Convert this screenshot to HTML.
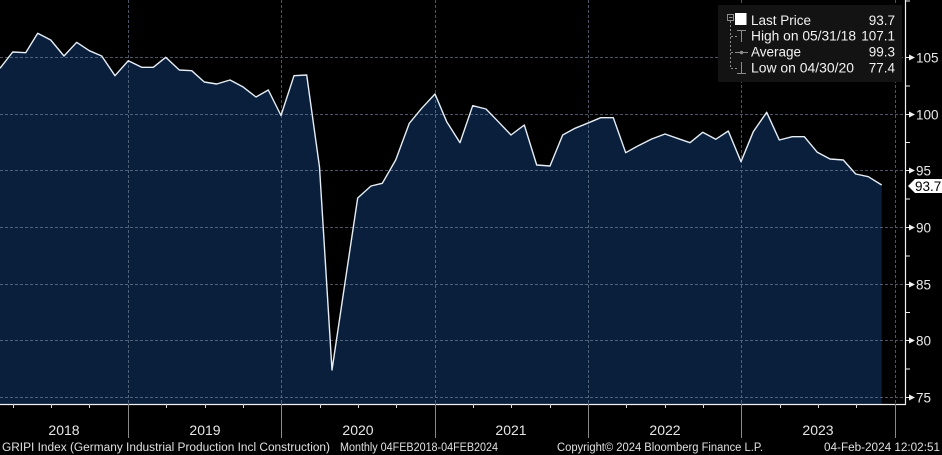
<!DOCTYPE html>
<html><head><meta charset="utf-8">
<style>
html,body{margin:0;padding:0;background:#000;}
svg{display:block;}
text{font-family:"Liberation Sans","DejaVu Sans",sans-serif;}
</style></head>
<body>
<svg width="942" height="455" viewBox="0 0 942 455" xmlns="http://www.w3.org/2000/svg">
<rect x="0" y="0" width="942" height="455" fill="#000"/>
<!-- area fill -->
<polygon fill="#0a1f3b" points="0,68.3 12.7,52 25.7,52.7 37.7,33.3 50.7,40 64,56 76.7,42.3 89.3,50.7 101.7,56 115,75.7 128.3,60.7 141.7,67.3 153.3,67.3 165.7,57.3 179.3,70 191.7,70.7 204.3,82 216.7,84 230,80 242.7,86.7 256,97 268.3,90 281,115.5 294,75.7 306.7,75 319.5,167 332,370 344.8,284 357.7,198 371,186 382.3,183.3 395.7,160 409.3,123.3 421.7,108.3 435,94 446.7,121.7 460,142.7 472.7,105.7 486,109 498.3,121.7 511,135 524.3,125 536.7,165 550,166 562.7,135 575,128.3 587.3,123.3 600.7,117.7 613.3,117.7 625.7,152.7 638.3,145.7 651.7,139 665,134 677.3,138.3 690,142.7 702.7,132.3 715.7,139.3 728.3,131 741,161.7 753.3,131.7 766.7,112.3 779.3,140 792.3,136.7 804.3,136.7 817.3,152.3 830,159 843.3,160 855.7,174 868.3,176.7 881.7,185 881.7,404 0,404"/>
<!-- grid -->
<g stroke="#7d8ea6" stroke-width="1" stroke-dasharray="3,2" fill="none" opacity="0.6">
<line x1="0" y1="57.5" x2="905" y2="57.5"/>
<line x1="0" y1="114.5" x2="905" y2="114.5"/>
<line x1="0" y1="170.5" x2="905" y2="170.5"/>
<line x1="0" y1="227.5" x2="905" y2="227.5"/>
<line x1="0" y1="284.5" x2="905" y2="284.5"/>
<line x1="0" y1="340.5" x2="905" y2="340.5"/>
<line x1="0" y1="397.5" x2="905" y2="397.5"/>
<line x1="128.5" y1="0" x2="128.5" y2="404"/>
<line x1="281.5" y1="0" x2="281.5" y2="404"/>
<line x1="435.5" y1="0" x2="435.5" y2="404"/>
<line x1="588.5" y1="0" x2="588.5" y2="404"/>
<line x1="741.5" y1="0" x2="741.5" y2="404"/>
<line x1="895.5" y1="0" x2="895.5" y2="404"/>
</g>
<!-- line -->
<polyline fill="none" stroke="#e6edf5" stroke-width="1.4" stroke-linejoin="round" points="0,68.3 12.7,52 25.7,52.7 37.7,33.3 50.7,40 64,56 76.7,42.3 89.3,50.7 101.7,56 115,75.7 128.3,60.7 141.7,67.3 153.3,67.3 165.7,57.3 179.3,70 191.7,70.7 204.3,82 216.7,84 230,80 242.7,86.7 256,97 268.3,90 281,115.5 294,75.7 306.7,75 319.5,167 332,370 344.8,284 357.7,198 371,186 382.3,183.3 395.7,160 409.3,123.3 421.7,108.3 435,94 446.7,121.7 460,142.7 472.7,105.7 486,109 498.3,121.7 511,135 524.3,125 536.7,165 550,166 562.7,135 575,128.3 587.3,123.3 600.7,117.7 613.3,117.7 625.7,152.7 638.3,145.7 651.7,139 665,134 677.3,138.3 690,142.7 702.7,132.3 715.7,139.3 728.3,131 741,161.7 753.3,131.7 766.7,112.3 779.3,140 792.3,136.7 804.3,136.7 817.3,152.3 830,159 843.3,160 855.7,174 868.3,176.7 881.7,185"/>
<!-- axes -->
<line x1="905.5" y1="0" x2="905.5" y2="405" stroke="#f0f0f0" stroke-width="1.2"/>
<line x1="0" y1="404.5" x2="906" y2="404.5" stroke="#f0f0f0" stroke-width="1.2"/>
<!-- right ticks major -->
<g fill="#f0f0f0" stroke="#f0f0f0" stroke-width="1">
<line x1="905" y1="57.5" x2="910" y2="57.5"/><polygon points="909,54.5 915,57.5 909,60.5" stroke="none"/>
<line x1="905" y1="114.5" x2="910" y2="114.5"/><polygon points="909,111.5 915,114.5 909,117.5" stroke="none"/>
<line x1="905" y1="170.5" x2="910" y2="170.5"/><polygon points="909,167.5 915,170.5 909,173.5" stroke="none"/>
<line x1="905" y1="227.5" x2="910" y2="227.5"/><polygon points="909,224.5 915,227.5 909,230.5" stroke="none"/>
<line x1="905" y1="284.5" x2="910" y2="284.5"/><polygon points="909,281.5 915,284.5 909,287.5" stroke="none"/>
<line x1="905" y1="340.5" x2="910" y2="340.5"/><polygon points="909,337.5 915,340.5 909,343.5" stroke="none"/>
<line x1="905" y1="397.5" x2="910" y2="397.5"/><polygon points="909,394.5 915,397.5 909,400.5" stroke="none"/>
<line x1="905" y1="1" x2="910" y2="1"/>
<line x1="905" y1="86" x2="910" y2="86"/>
<line x1="905" y1="142.5" x2="910" y2="142.5"/>
<line x1="905" y1="199" x2="910" y2="199"/>
<line x1="905" y1="256" x2="910" y2="256"/>
<line x1="905" y1="312.5" x2="910" y2="312.5"/>
<line x1="905" y1="369" x2="910" y2="369"/>
</g>
<g fill="#e8e8e8" font-size="13.5">
<text x="916" y="62.5">105</text>
<text x="916" y="119.5">100</text>
<text x="916" y="175.5">95</text>
<text x="916" y="232.5">90</text>
<text x="916" y="289.5">85</text>
<text x="916" y="345.5">80</text>
<text x="916" y="402.5">75</text>
</g>
<!-- last price tag -->
<polygon points="908,186 915,179 942,179 942,193 915,193" fill="#ffffff"/>
<text x="915" y="191" font-size="13.5" fill="#000">93.7</text>
<!-- bottom axis ticks -->
<g stroke="#d8d8d8" stroke-width="1">
<line x1="13.5" y1="404" x2="13.5" y2="408"/>
<line x1="51.5" y1="404" x2="51.5" y2="408"/>
<line x1="89.5" y1="404" x2="89.5" y2="408"/>
<line x1="166.5" y1="404" x2="166.5" y2="408"/>
<line x1="205.5" y1="404" x2="205.5" y2="408"/>
<line x1="243.5" y1="404" x2="243.5" y2="408"/>
<line x1="320.5" y1="404" x2="320.5" y2="408"/>
<line x1="358.5" y1="404" x2="358.5" y2="408"/>
<line x1="396.5" y1="404" x2="396.5" y2="408"/>
<line x1="473.5" y1="404" x2="473.5" y2="408"/>
<line x1="511.5" y1="404" x2="511.5" y2="408"/>
<line x1="550.5" y1="404" x2="550.5" y2="408"/>
<line x1="626.5" y1="404" x2="626.5" y2="408"/>
<line x1="665.5" y1="404" x2="665.5" y2="408"/>
<line x1="703.5" y1="404" x2="703.5" y2="408"/>
<line x1="780.5" y1="404" x2="780.5" y2="408"/>
<line x1="818.5" y1="404" x2="818.5" y2="408"/>
<line x1="856.5" y1="404" x2="856.5" y2="408"/>
</g>
<g stroke="#8a8a8a" stroke-width="1">
<line x1="128.5" y1="404" x2="128.5" y2="438"/>
<line x1="281.5" y1="404" x2="281.5" y2="438"/>
<line x1="435.5" y1="404" x2="435.5" y2="438"/>
<line x1="588.5" y1="404" x2="588.5" y2="438"/>
<line x1="741.5" y1="404" x2="741.5" y2="438"/>
<line x1="895.5" y1="404" x2="895.5" y2="438"/>
</g>
<g fill="#e6e6e6" font-size="14" text-anchor="middle">
<text x="64" y="435">2018</text>
<text x="205" y="435">2019</text>
<text x="358" y="435">2020</text>
<text x="511" y="435">2021</text>
<text x="665" y="435">2022</text>
<text x="818" y="435">2023</text>
</g>
<g fill="#e0e0e0" font-size="11.5">
<text x="2" y="451" textLength="328" lengthAdjust="spacingAndGlyphs">GRIPI Index (Germany Industrial Production Incl Construction)</text>
<text x="340" y="451" textLength="158" lengthAdjust="spacingAndGlyphs">Monthly 04FEB2018-04FEB2024</text>
<text x="557" y="451" textLength="206" lengthAdjust="spacingAndGlyphs">Copyright© 2024 Bloomberg Finance L.P.</text>
<text x="824" y="451" textLength="116" lengthAdjust="spacingAndGlyphs">04-Feb-2024 12:02:51</text>
</g>
<!-- legend -->
<rect x="718" y="5" width="184" height="77" fill="#131313"/>
<g stroke="#8c8c8c" stroke-width="1" fill="none">
<rect x="727.5" y="14.5" width="6" height="6"/>
<line x1="729" y1="17.5" x2="732.5" y2="17.5"/>
<line x1="730.5" y1="21" x2="730.5" y2="68" stroke-dasharray="2,2"/>
<line x1="731" y1="36.5" x2="737" y2="36.5" stroke-dasharray="2,2"/>
<line x1="731" y1="52.5" x2="735" y2="52.5" stroke-dasharray="2,2"/>
<line x1="731" y1="68.5" x2="737" y2="68.5" stroke-dasharray="2,2"/>
<line x1="737" y1="30.5" x2="746" y2="30.5"/>
<line x1="741.5" y1="30.5" x2="741.5" y2="42"/>
<line x1="735" y1="52.5" x2="748" y2="52.5"/>
<line x1="741.5" y1="62" x2="741.5" y2="73"/>
<line x1="737" y1="73.5" x2="746" y2="73.5"/>
</g>
<circle cx="741.5" cy="52.5" r="1.8" fill="#8c8c8c"/>
<rect x="735" y="13" width="11.5" height="12" fill="#ffffff"/>
<g fill="#f2f2f2" font-size="13.5">
<text x="751" y="25">Last Price</text>
<text x="751" y="40.7" textLength="105" lengthAdjust="spacingAndGlyphs">High on 05/31/18</text>
<text x="751" y="56.7">Average</text>
<text x="751" y="72.7" textLength="103" lengthAdjust="spacingAndGlyphs">Low on 04/30/20</text>
<g text-anchor="end">
<text x="895" y="25">93.7</text>
<text x="895" y="40.7">107.1</text>
<text x="895" y="56.7">99.3</text>
<text x="895" y="72.7">77.4</text>
</g>
</g>
</svg>
</body></html>
